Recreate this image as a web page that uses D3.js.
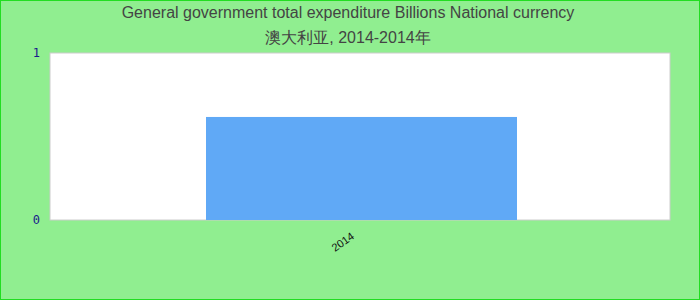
<!DOCTYPE html>
<html>
<head>
<meta charset="utf-8">
<script src="https://cdn.jsdelivr.net/npm/d3@7"></script>
<style>
  body { margin: 0; }
  svg { display: block; }
</style>
</head>
<body>
<svg id="chart"></svg>
<script>
var categories = ["2014"];
var values = [0.617];
var yTicks = [0, 1];
var titleLines = ["General government total expenditure Billions National currency", "澳大利亚, 2014-2014年"];

var W = 700, H = 300;
var margin = { top: 53, right: 30, bottom: 80, left: 50 },
  width = W - margin.left - margin.right,
  height = H - margin.top - margin.bottom;

var svg = d3.select("#chart")
  .attr("width", W)
  .attr("height", H);

// page background + border
svg.append("rect")
  .attr("x", 0.5).attr("y", 0.5)
  .attr("width", W - 1).attr("height", H - 1)
  .attr("fill", "#90ee90")
  .attr("stroke", "#22dd22")
  .attr("stroke-width", 1);

svg.selectAll("text.title")
  .data(titleLines)
  .enter().append("text")
  .attr("class", "title")
  .attr("x", W / 2 - 2)
  .attr("y", function(d, i) { return 18 + i * 25; })
  .attr("text-anchor", "middle")
  .attr("font-family", "Liberation Sans, Arial, sans-serif")
  .attr("font-size", "16px")
  .attr("fill", "#444")
  .text(function(d) { return d; });

var g = svg.append("g")
  .attr("transform", "translate(" + margin.left + "," + margin.top + ")");

var x = d3.scaleBand()
  .domain(categories)
  .range([0, width])
  .paddingInner(0)
  .paddingOuter(0.5);

var y = d3.scaleLinear()
  .domain([0, 1])
  .range([height, 0]);

// plot area
g.append("rect")
  .attr("x", 0).attr("y", 0)
  .attr("width", width).attr("height", height)
  .attr("fill", "#fff")
  .attr("stroke", "#ccc")
  .attr("stroke-width", 1);

g.selectAll("rect.bar")
  .data(values)
  .enter().append("rect")
  .attr("class", "bar")
  .attr("x", function(d, i) { return x(categories[i]) + 1; })
  .attr("y", function(d) { return y(d); })
  .attr("width", x.bandwidth() + 1)
  .attr("height", function(d) { return height - y(d); })
  .attr("fill", "#60a9f6");

// y axis
var yAxis = g.append("g")
  .call(d3.axisLeft(y).tickValues(yTicks).tickSize(0).tickPadding(10).tickFormat(d3.format("d")));
yAxis.select(".domain").remove();
yAxis.selectAll("text")
  .attr("font-family", "DejaVu Sans Mono, monospace")
  .attr("font-size", "12px")
  .attr("fill", "#1a1a8c");

// x axis
var xAxis = g.append("g")
  .attr("transform", "translate(0," + height + ")")
  .call(d3.axisBottom(x).tickSize(0).tickPadding(0));
xAxis.select(".domain").remove();
xAxis.selectAll("text")
  .attr("font-family", "Liberation Sans, Arial, sans-serif")
  .attr("font-size", "11px")
  .attr("fill", "#111")
  .attr("text-anchor", "end")
  .attr("dy", "0")
  .attr("transform", "translate(-5,18) rotate(-35)");
</script>
</body>
</html>
